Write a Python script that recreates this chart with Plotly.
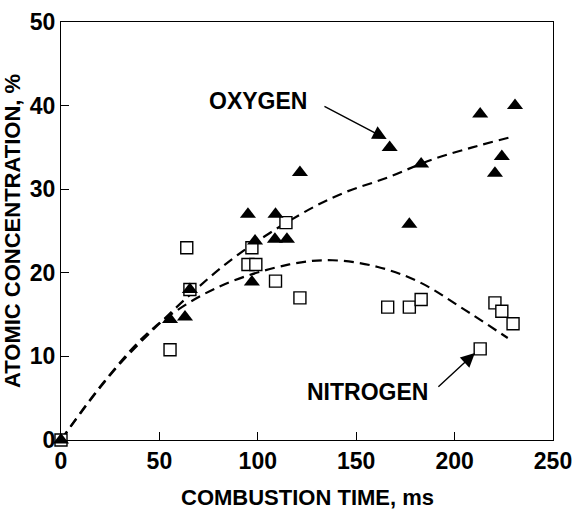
import plotly.graph_objects as go

# Oxygen (filled triangles)
oxy_x = [0, 55.4, 63, 65.5, 95, 98.6, 97, 109, 108.7, 114.8, 121.4, 167, 183, 177, 213, 230.7, 224, 220.5]
oxy_y = [0, 14.4, 14.7, 18, 27, 23.8, 18.9, 27, 24, 24, 32, 35, 33, 25.8, 39, 40, 33.9, 31.9]

# Nitrogen (open squares)
nit_x = [0, 55.4, 63.9, 65.5, 97, 95, 99, 114.3, 109, 121.4, 166, 177, 183, 220.5, 224, 229.7, 213]
nit_y = [0, 10.8, 23, 18, 23, 21, 21, 26, 19, 17, 15.9, 15.9, 16.8, 16.4, 15.4, 13.9, 10.9]

# Dashed trend curves
oxy_fit_x = [0, 23, 40, 84, 121, 143, 166, 188, 209, 228]
oxy_fit_y = [0, 7.2, 11.6, 21.1, 26.9, 29.5, 31.4, 33.5, 35, 36.2]
nit_fit_x = [0, 23, 47, 79, 116, 138, 161, 182, 203, 227]
nit_fit_y = [0, 7.3, 13.4, 18.2, 21, 21.5, 20.7, 18.9, 15.9, 12.2]

x_ticks = [0, 50, 100, 150, 200, 250]
y_ticks = [0, 10, 20, 30, 40, 50]

FONT = "Liberation Sans, Arial, sans-serif"

fig = go.Figure()
fig.add_trace(go.Scatter(x=oxy_fit_x, y=oxy_fit_y, mode="lines", line=dict(color="black", width=2.2, dash="10px,6px", shape="spline"), hoverinfo="skip"))
fig.add_trace(go.Scatter(x=nit_fit_x, y=nit_fit_y, mode="lines", line=dict(color="black", width=2.2, dash="10px,6px", shape="spline"), hoverinfo="skip"))
fig.add_trace(go.Scatter(x=nit_x, y=nit_y, mode="markers", cliponaxis=False,
                         marker=dict(symbol="square", size=12, color="white", line=dict(color="black", width=1.4))))
fig.add_trace(go.Scatter(x=oxy_x, y=oxy_y, mode="markers", cliponaxis=False,
                         marker=dict(symbol="triangle-up", size=14, color="black", line=dict(width=0))))

fig.update_layout(
    width=574, height=512,
    margin=dict(l=61, r=21, t=22, b=72, autoexpand=False),
    paper_bgcolor="white", plot_bgcolor="white",
    showlegend=False,
    font=dict(family=FONT, color="black"),
)
fig.update_xaxes(range=[0, 250], tickvals=x_ticks, ticks="inside", ticklen=8, tickwidth=1.3, tickcolor="black",
                 showline=True, linecolor="black", linewidth=1.3, mirror=True, showgrid=False, zeroline=False,
                 automargin=False,
                 tickfont=dict(family=FONT, size=23, color="black", weight="bold"))
fig.update_yaxes(range=[0, 50], tickvals=y_ticks, ticks="inside", ticklen=8, tickwidth=1.3, tickcolor="black",
                 showline=True, linecolor="black", linewidth=1.3, mirror=True, showgrid=False, zeroline=False,
                 automargin=False,
                 tickfont=dict(family=FONT, size=23, color="black", weight="bold"))

annots = [
    dict(text="<b>COMBUSTION TIME, ms</b>", xref="paper", yref="paper", x=0.5, y=0, yanchor="middle", yshift=-57,
         showarrow=False, font=dict(size=22)),
    dict(text="<b>ATOMIC CONCENTRATION, %</b>", xref="paper", yref="paper", x=0, y=0.5, xanchor="center", xshift=-49,
         textangle=-90, showarrow=False, font=dict(size=22)),
    dict(text="<b>OXYGEN</b>", x=100, y=40.5, xref="x", yref="y", showarrow=False, font=dict(size=23)),
    dict(text="<b>NITROGEN</b>", x=155.5, y=5.8, xref="x", yref="y", showarrow=False, font=dict(size=23)),
    dict(text="", x=165.5, y=36.0, ax=133.1, ay=40.0, xref="x", yref="y", axref="x", ayref="y",
         showarrow=True, arrowhead=2, arrowsize=2.0, arrowwidth=1.4, arrowcolor="black"),
    dict(text="", x=210.3, y=10.4, ax=191, ay=6.2, xref="x", yref="y", axref="x", ayref="y",
         showarrow=True, arrowhead=2, arrowsize=2.0, arrowwidth=1.4, arrowcolor="black"),
]
fig.update_layout(annotations=annots)

fig.write_html("out.html")
